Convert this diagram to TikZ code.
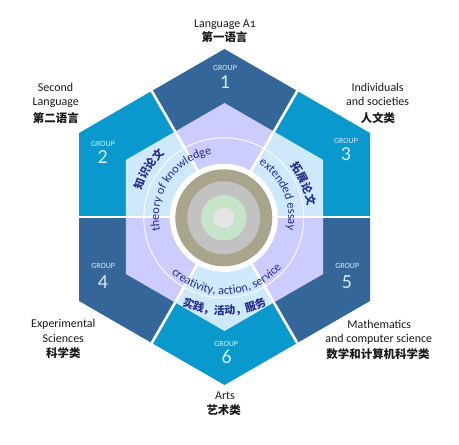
\documentclass[tikz,border=0pt]{standalone}
\usepackage{fontspec}
\setmainfont{Carlito}
\newfontfamily\cjk{Noto Sans CJK SC}
\usetikzlibrary{decorations.text,calc}
\definecolor{gdark}{HTML}{346699}
\definecolor{gbright}{HTML}{0A99CC}
\definecolor{lav}{HTML}{CCCCFF}
\definecolor{lblue}{HTML}{CDE9FB}
\definecolor{khaki}{HTML}{A8A58C}
\definecolor{rgray}{HTML}{C2C2C2}
\definecolor{rgreen}{HTML}{C6E4C8}
\definecolor{rcore}{HTML}{E4E4E4}
\definecolor{ink}{HTML}{282C8C}
\definecolor{glabel}{HTML}{D5ECF7}
\definecolor{labtext}{HTML}{1A1A1A}
\tikzset{
  lab/.style={font=\fontsize{12}{14}\selectfont, text=labtext, inner sep=0pt, anchor=base},
  cjklab/.style={font=\cjk\bfseries\fontsize{11.5}{13}\selectfont, text=labtext, inner sep=0pt, anchor=center},
  grp/.style={font=\fontsize{8}{8}\selectfont, text=glabel, inner sep=0pt, anchor=center},
  grpnum/.style={font=\fontsize{20}{20}\selectfont, text=glabel, inner sep=0pt, anchor=center},
  divider/.style={white, line width=2.6bp},
}
\begin{document}
\begin{tikzpicture}[x=1bp,y=1bp]
\useasboundingbox (0,0) rectangle (459,445);
\fill[white] (0,0) rectangle (459,445);
\coordinate (C) at (224.5,228);
\coordinate (O) at (223.8,227.2);
% sectors
\foreach \a/\col/\inn in {90/gdark/lav,150/gbright/lblue,30/gbright/lblue,210/gdark/lav,330/gdark/lav,270/gbright/lblue}{
  \fill[\col] (C) -- ($(C)+({\a-30}:145.5)$) -- ($(C)+(\a:168)$) -- ($(C)+({\a+30}:145.5)$) -- cycle;
  \fill[\inn] (C) -- ($(C)+({\a-30}:98.7)$) -- ($(C)+(\a:114)$) -- ($(C)+({\a+30}:98.7)$) -- cycle;
}
% dividers
\foreach \a in {0,60,...,300}{
  \draw[divider] (C) -- ($(C)+(\a:147)$);
}
% thin circle
\draw[white, line width=0.9bp] (O) circle[radius=80bp];
% central disk
\fill[white] (O) circle[radius=54bp];
\fill[khaki] (O) circle[radius=48.5bp];
\fill[rgray] (O) circle[radius=36.5bp];
\fill[rgreen] (O) circle[radius=22.7bp];
\fill[rcore] (O) circle[radius=10.3bp];
% ring texts
\path[decorate, decoration={text along path, text align=center, text color=ink,
  text={|\fontsize{12.3}{12}\selectfont|theory of knowledge}}]
  ($(O)+(216:65)$) arc[start angle=216, end angle=76, radius=65bp];
\path[decorate, decoration={text along path, text align=center, text color=ink,
  text={|\cjk\bfseries\fontsize{11}{11}\selectfont|知识论文}}]
  ($(O)+(217:87)$) arc[start angle=217, end angle=77, radius=87bp];
\path[decorate, decoration={text along path, text align=center, text color=ink,
  text={|\fontsize{12.3}{12}\selectfont|extended essay}}]
  ($(O)+(93:64.5)$) arc[start angle=93, end angle=-47, radius=64.5bp];
\path[decorate, decoration={text along path, text align=center, text color=ink,
  text={|\cjk\bfseries\fontsize{11}{11}\selectfont|拓展论文}}]
  ($(O)+(93:84.6)$) arc[start angle=93, end angle=-47, radius=84.6bp];
\path[decorate, decoration={text along path, text align=center, text color=ink,
  text={|\fontsize{12.3}{12}\selectfont|creativity, action, service}}]
  ($(O)+(-157:76.5)$) arc[start angle=-157, end angle=-17, radius=76.5bp];
\path[decorate, decoration={text along path, text align=center, text color=ink,
  text={|\cjk\bfseries\fontsize{11}{11}\selectfont|实践，活动，服务}}]
  ($(O)+(-159.5:97)$) arc[start angle=-159.5, end angle=-19.5, radius=97bp];
% group labels
\node[grp] (g1a) at (225,377.2) {GROUP};
\node[grpnum] (g1b) at (225,363.3) {1};
\node[grp] (g2a) at (103,301) {GROUP};
\node[grpnum] (g2b) at (102.7,288) {2};
\node[grp] (g3a) at (346,304) {GROUP};
\node[grpnum] (g3b) at (346,291) {3};
\node[grp] (g4a) at (103.2,179.5) {GROUP};
\node[grpnum] (g4b) at (103,163) {4};
\node[grp] (g5a) at (347.3,179.5) {GROUP};
\node[grpnum] (g5b) at (346.8,163) {5};
\node[grp] (g6a) at (226.2,101.5) {GROUP};
\node[grpnum] (g6b) at (226.7,88.3) {6};
% outer labels
\node[lab] (l1a) at (225,417) {Language A{\addfontfeature{Numbers=OldStyle}1}};
\node[cjklab] (l1b) at (224.5,408) {第一语言};
\node[lab] (l2a) at (55.6,353.3) {Second};
\node[lab] (l2b) at (55.8,339.3) {Language};
\node[cjklab] (l2c) at (55.8,327.3) {第二语言};
\node[lab] (l3a) at (377.6,353.3) {Individuals};
\node[lab] (l3b) at (377.6,339.3) {and societies};
\node[cjklab] (l3c) at (378,327.3) {人文类};
\node[lab] (l4a) at (63.3,117.5) {Experimental};
\node[lab] (l4b) at (63.3,102.3) {Sciences};
\node[cjklab] (l4c) at (63.3,92) {科学类};
\node[lab] (l5a) at (379.3,116.7) {Mathematics};
\node[lab] (l5b) at (378.7,102.3) {and computer science};
\node[cjklab] (l5c) at (378,90.5) {数学和计算机科学类};
\node[lab] (l6a) at (225,45) {Arts};
\node[cjklab] (l6b) at (223.7,35) {艺术类};
\end{tikzpicture}
\end{document}
